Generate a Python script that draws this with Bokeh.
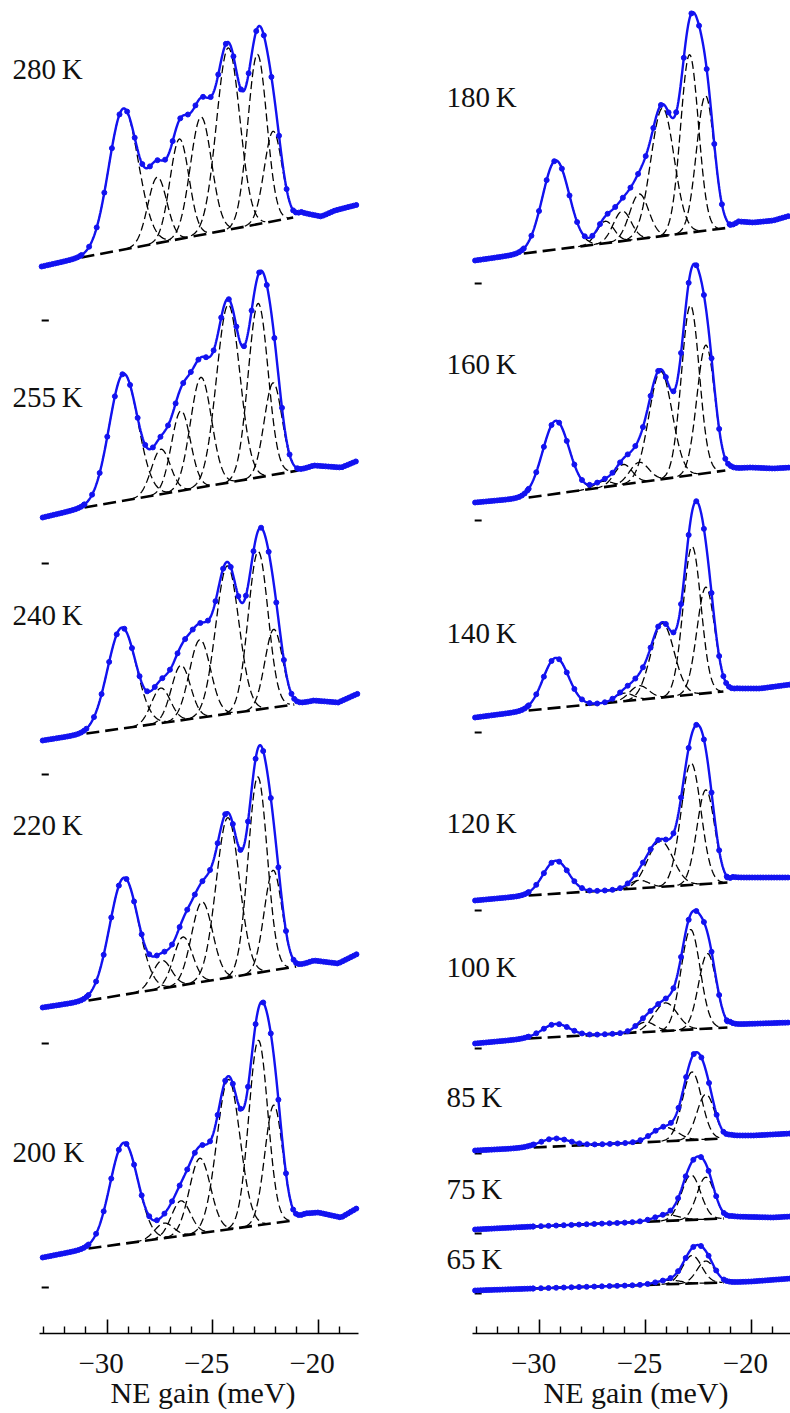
import numpy as np
from bokeh.plotting import figure
from bokeh.layouts import row
from bokeh.models import Range1d, FixedTicker
from bokeh.core.properties import value
from bokeh.embed import file_html
from bokeh.resources import INLINE

# ---------------- data (x in meV, intensities in arbitrary units) ----------------
# Left column
left_temps = ["280\u2009K", "255\u2009K", "240\u2009K", "220\u2009K", "200 K"]
left_zero = [1013, 770, 559, 290, 46]

t280_bg_x = [-33.1, -31.21, -21.18, -20.8, -19.85, -19.2, -18.1]
t280_bg_y = [54, 63, 103, 108, 104, 110, 116]
t280_pk_x = [-29.22, -27.62, -26.57, -25.55, -24.26, -22.88, -22.13]
t280_pk_h = [141, 66, 100, 118, 182, 170, 90]
t280_pk_w = [0.70, 0.45, 0.45, 0.50, 0.55, 0.45, 0.42]

t255_bg_x = [-33.05, -31.07, -20.94, -20.2, -18.9, -18.1]
t255_bg_y = [46, 56, 93, 98, 96, 103]
t255_pk_x = [-29.22, -27.45, -26.5, -25.55, -24.26, -22.84, -22.13]
t255_pk_h = [127, 45, 80, 110, 178, 174, 92]
t255_pk_w = [0.68, 0.45, 0.45, 0.50, 0.55, 0.47, 0.42]

t240_bg_x = [-33.05, -30.98, -21.13, -20.2, -19.05, -18.1]
t240_bg_y = [34, 41, 70, 74, 72, 81]
t240_pk_x = [-29.3, -27.45, -26.5, -25.6, -24.3, -22.84, -22.1]
t240_pk_h = [101, 35, 55, 78, 148, 158, 78]
t240_pk_w = [0.68, 0.45, 0.45, 0.50, 0.55, 0.47, 0.42]

t220_bg_x = [-33.05, -30.88, -21.04, -20.2, -19.05, -18.1]
t220_bg_y = [36, 43, 77, 83, 80, 90]
t220_pk_x = [-29.2, -27.4, -26.4, -25.5, -24.28, -22.86, -22.13]
t220_pk_h = [117, 28, 48, 80, 160, 196, 100]
t220_pk_w = [0.68, 0.45, 0.45, 0.50, 0.55, 0.45, 0.42]

t200_bg_x = [-33.05, -30.88, -21.18, -20.6, -19.99, -18.91, -18.1]
t200_bg_y = [30, 39, 67, 74, 75, 70, 80]
t200_pk_x = [-29.2, -27.3, -26.5, -25.6, -24.25, -22.83, -22.1]
t200_pk_h = [101, 15, 35, 75, 150, 185, 118]
t200_pk_w = [0.66, 0.45, 0.45, 0.50, 0.55, 0.45, 0.42]

# Right column
right_temps = ["180\u2009K", "160\u2009K", "140\u2009K", "120\u2009K", "100\u2009K",
               "85\u2009K", "75\u2009K", "65\u2009K"]
right_zero = [1050, 813, 601, 423, 285, 180, 100, 40]

t180_bg_x = [-33.05, -30.75, -20.99, -20.6, -19.9, -18.96, -18.15]
t180_bg_y = [23, 30, 56, 62, 61, 63, 68]
t180_pk_x = [-29.24, -26.9, -26.1, -25.3, -24.2, -22.92, -22.17]
t180_pk_h = [89, 22, 30, 45, 128, 178, 135]
t180_pk_w = [0.63, 0.40, 0.42, 0.45, 0.55, 0.42, 0.42]

t160_bg_x = [-33.05, -30.52, -21.23, -20.99, -20.05, -18.96, -18.15]
t160_bg_y = [18, 23, 50, 52, 53, 52, 53]
t160_pk_x = [-29.24, -27.0, -26.05, -25.3, -24.29, -22.88, -22.15]
t160_pk_h = [73, 6, 20, 20, 108, 170, 128]
t160_pk_w = [0.62, 0.40, 0.42, 0.45, 0.55, 0.42, 0.42]

t140_bg_x = [-33.05, -30.52, -21.32, -20.66, -19.58, -18.15]
t140_bg_y = [15, 22, 41, 44, 44, 48]
t140_pk_x = [-29.24, -26.0, -25.3, -24.2, -22.8, -22.15]
t140_pk_h = [50, 8, 14, 74, 148, 106]
t140_pk_w = [0.60, 0.42, 0.45, 0.55, 0.42, 0.42]

t120_bg_x = [-33.05, -30.52, -21.13, -20.85, -19.91, -18.15]
t120_bg_y = [10, 15, 28, 33, 33, 33]
t120_pk_x = [-29.24, -25.3, -24.3, -22.85, -22.15]
t120_pk_h = [33, 8, 46, 122, 94]
t120_pk_w = [0.60, 0.45, 0.60, 0.47, 0.42]

t100_bg_x = [-33.05, -30.52, -21.13, -20.99, -19.58, -18.15]
t100_bg_y = [5, 10, 21, 24, 25, 26]
t100_pk_x = [-29.24, -25.0, -24.05, -22.87, -22.07]
t100_pk_h = [13, 10, 28, 100, 75]
t100_pk_w = [0.65, 0.45, 0.55, 0.45, 0.42]

t85_bg_x = [-33.05, -30.28, -21.32, -20.99, -19.91, -18.15]
t85_bg_y = [3, 6, 15, 18, 18, 20]
t85_pk_x = [-29.3, -24.1, -22.8, -22.15]
t85_pk_h = [8, 14, 68, 45]
t85_pk_w = [0.70, 0.60, 0.45, 0.42]

t75_bg_x = [-33.05, -30.3, -21.3, -20.9, -19.0, -18.15]
t75_bg_y = [4, 7, 15, 17, 16, 17]
t75_pk_x = [-24.0, -22.85, -22.15]
t75_pk_h = [6, 45, 42]
t75_pk_w = [0.60, 0.45, 0.42]

t65_bg_x = [-33.05, -30.3, -21.3, -20.0, -18.15]
t65_bg_y = [3, 5, 11, 12, 15]
t65_pk_x = [-23.9, -22.8, -22.15]
t65_pk_h = [4, 28, 22]
t65_pk_w = [0.60, 0.45, 0.42]

# index (in bg arrays) of the start / end of the fitted baseline
left_fit = [(1, 2), (1, 2), (1, 2), (1, 2), (1, 2)]
right_fit = [(1, 2), (1, 2), (1, 2), (1, 2), (1, 2), (1, 2), (1, 2), (1, 2)]

left_sets = [
    (t280_bg_x, t280_bg_y, t280_pk_x, t280_pk_h, t280_pk_w),
    (t255_bg_x, t255_bg_y, t255_pk_x, t255_pk_h, t255_pk_w),
    (t240_bg_x, t240_bg_y, t240_pk_x, t240_pk_h, t240_pk_w),
    (t220_bg_x, t220_bg_y, t220_pk_x, t220_pk_h, t220_pk_w),
    (t200_bg_x, t200_bg_y, t200_pk_x, t200_pk_h, t200_pk_w),
]
right_sets = [
    (t180_bg_x, t180_bg_y, t180_pk_x, t180_pk_h, t180_pk_w),
    (t160_bg_x, t160_bg_y, t160_pk_x, t160_pk_h, t160_pk_w),
    (t140_bg_x, t140_bg_y, t140_pk_x, t140_pk_h, t140_pk_w),
    (t120_bg_x, t120_bg_y, t120_pk_x, t120_pk_h, t120_pk_w),
    (t100_bg_x, t100_bg_y, t100_pk_x, t100_pk_h, t100_pk_w),
    (t85_bg_x, t85_bg_y, t85_pk_x, t85_pk_h, t85_pk_w),
    (t75_bg_x, t75_bg_y, t75_pk_x, t75_pk_h, t75_pk_w),
    (t65_bg_x, t65_bg_y, t65_pk_x, t65_pk_h, t65_pk_w),
]

major_ticks = [-30, -25, -20]
minor_ticks = [-33, -32, -31, -29, -28, -27, -26, -24, -23, -22, -21, -19]
tick_text = ["\u221230", "\u221225", "\u221220"]
x_title = "NE gain (meV)"

BLUE = "#1212f0"
FONT = "Liberation Serif"
INK = "#111111"


def total(x, bgx, bgy, px, ph, pw):
    y = np.interp(x, bgx, bgy)
    for c, h, w in zip(px, ph, pw):
        y = y + h * np.exp(-0.5 * ((x - c) / w) ** 2)
    return y


def make_panel(xr, bounds, sets, zeros, fits, temps, label_x, label_y, dash_x):
    p = figure(frame_width=395, frame_height=1413, x_range=Range1d(*xr),
               y_range=Range1d(-80, 1333), output_backend="svg", toolbar_location=None,
               y_axis_location=None, min_border_left=0, min_border_right=0,
               min_border_top=0, min_border_bottom=0, outline_line_color=None)
    p.xgrid.visible = False
    p.ygrid.visible = False
    ax = p.xaxis[0]
    ax.fixed_location = 0
    ax.ticker = FixedTicker(ticks=major_ticks, minor_ticks=minor_ticks)
    ax.bounds = bounds
    ax.axis_line_width = 1.6
    ax.axis_line_color = "black"
    ax.major_tick_in = 14
    ax.major_tick_out = 0
    ax.minor_tick_in = 7
    ax.minor_tick_out = 0
    ax.major_tick_line_width = 1.6
    ax.minor_tick_line_width = 1.4
    # the axis' own labels are not drawn; tick labels are placed as text below
    ax.major_label_text_color = None
    ax.major_label_text_font_size = "1px"
    ax.major_label_standoff = 0

    for (bgx, bgy, px, ph, pw), z, (i0, i1) in zip(sets, zeros, fits):
        lo, hi = bgx[i0], bgx[i1]
        bx = np.array(bgx, float)
        by = np.array(bgy, float) + z
        # fitted Gaussian components (dashed)
        xs, ys = [], []
        for c, h, w in zip(px, ph, pw):
            xx = np.linspace(max(c - 3.2 * w, lo), min(c + 3.2 * w, hi), 80)
            yy = np.interp(xx, bx, by) + h * np.exp(-0.5 * ((xx - c) / w) ** 2)
            xs.append(xx)
            ys.append(yy)
        p.multi_line(xs, ys, line_color="black", line_width=1.3, line_dash="8 4")
        # baseline
        p.line([lo, hi], [bgy[i0] + z, bgy[i1] + z], line_color="black",
               line_width=2.6, line_dash="13 6")
        # zero marker
        p.segment(x0=[dash_x[0]], x1=[dash_x[1]], y0=[z], y1=[z],
                  line_color="black", line_width=2)
        # total curve
        xl = np.arange(bgx[0], bgx[-1] + 1e-9, 0.02)
        p.line(xl, total(xl, bx, by, px, ph, pw), line_color=BLUE, line_width=2.4)
        xm = np.concatenate([np.arange(bgx[0], lo, 0.13),
                             np.arange(lo, hi, 0.36),
                             np.arange(hi, bgx[-1] + 1e-9, 0.13)])
        p.scatter(xm, total(xm, bx, by, px, ph, pw), size=5, fill_color=BLUE,
                  line_color=BLUE)

    # temperature labels
    p.text(x=[label_x] * len(temps), y=label_y, text=temps, text_font=value(FONT),
           text_font_size="29px", text_baseline="middle", text_align="left",
           text_color=INK)
    # tick labels and axis title
    p.text(x=major_ticks, y=[-30] * 3, text=tick_text, text_font=value(FONT),
           text_font_size="29px", text_baseline="alphabetic", text_align="center",
           x_offset=-6, text_color=INK)
    p.text(x=[-25.45], y=[-59], text=[x_title], text_font=value(FONT),
           text_font_size="30px", text_baseline="alphabetic", text_align="center",
           text_color=INK)
    return p


pl = make_panel((-35.05, -16.33), (-33.2, -18.06), left_sets, left_zero, left_fit,
                left_temps, -34.48, [1265, 937, 719, 509, 182], (-33.1, -32.76))
pr = make_panel((-36.81, -18.15), (-33.16, -18.15), right_sets, right_zero, right_fit,
                right_temps, -34.40, [1237, 970, 701, 511, 367, 237, 145, 75],
                (-33.07, -32.74))

layout = row(pl, pr)
open("out.html", "w").write(file_html(layout, INLINE))
